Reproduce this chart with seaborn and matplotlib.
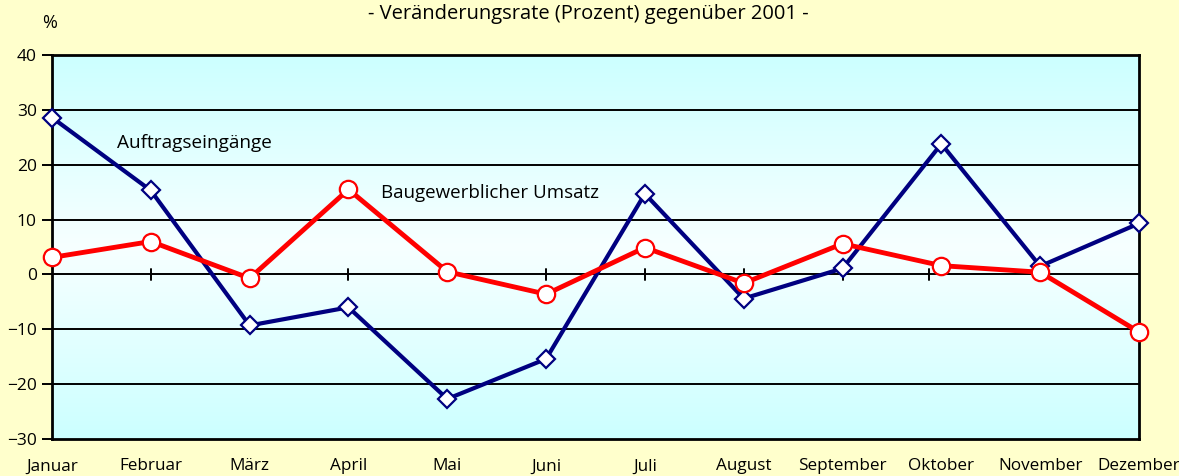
import pandas as pd
import numpy as np
import matplotlib.pyplot as plt
from matplotlib.colors import LinearSegmentedColormap
import seaborn as sns

monate = ['Januar', 'Februar', 'März', 'April', 'Mai', 'Juni', 'Juli',
          'August', 'September', 'Oktober', 'November', 'Dezember']
auftragseingaenge = [28.6, 15.3, -9.3, -6.0, -22.7, -15.4, 14.7, -4.4, 1.1, 23.8, 1.5, 9.3]
umsatz = [3.1, 6.0, -0.7, 15.5, 0.5, -3.6, 4.9, -1.6, 5.6, 1.6, 0.4, -10.5]

df = pd.DataFrame({'monat': monate, 'pos': range(12),
                   'Auftragseingänge': auftragseingaenge,
                   'Baugewerblicher Umsatz': umsatz})

sns.set_style('white')
plt.rcParams['font.family'] = ['Open Sans', 'DejaVu Sans']
plt.rcParams['text.color'] = 'black'
plt.rcParams['xtick.color'] = 'black'
plt.rcParams['ytick.color'] = 'black'

fig = plt.figure(figsize=(11.79, 4.76), dpi=100, facecolor='#FFFFCC')
ax = fig.add_axes([52/1179, 37/476, 1087/1179, 384/476])
ax.set_facecolor('#CCFFFF')

# hellblauer Verlauf im Hintergrund
cmap = LinearSegmentedColormap.from_list('bg', ['#CCFFFF', '#F7FFFF', '#CCFFFF'])
grad = np.linspace(0, 1, 256).reshape(-1, 1)
ax.imshow(grad, cmap=cmap, aspect='auto', extent=(0, 11, -30, 40), zorder=0)

for y in range(-20, 40, 10):
    ax.axhline(y, color='black', lw=1.4, zorder=1)
for x in [1, 3, 5, 6, 7, 8, 8.87]:
    ax.plot([x, x], [-1, 1], color='black', lw=1.4, zorder=1)

sns.lineplot(data=df, x='pos', y='Auftragseingänge', ax=ax, color='#000080', lw=3,
             marker='D', markersize=9, markerfacecolor='white', markeredgecolor='#000080',
             markeredgewidth=1.6, sort=False, clip_on=False, zorder=3)
sns.lineplot(data=df, x='pos', y='Baugewerblicher Umsatz', ax=ax, color='#FF0000', lw=3.5,
             marker='o', markersize=12.5, markerfacecolor='white', markeredgecolor='#FF0000',
             markeredgewidth=1.6, sort=False, clip_on=False, zorder=4)

ax.set_xlim(0, 11)
ax.set_ylim(-30, 40)
ax.set_yticks(range(-30, 41, 10))
ax.set_xticks(range(12))
ax.set_xticklabels(monate)
ax.tick_params(axis='y', length=7, width=1.4, color='black', labelsize=12.5, pad=4)
ax.tick_params(axis='x', length=0, labelsize=12.3, pad=14)
ax.tick_params(left=True, bottom=False)
for s in ax.spines.values():
    s.set_color('black')
    s.set_linewidth(2)
ax.set_xlabel('')
ax.set_ylabel('')

ax.text(0.66, 24, 'Auftragseingänge', fontsize=13.7, va='center')
ax.text(3.33, 14.8, 'Baugewerblicher Umsatz', fontsize=13.5, va='center')

fig.text(50/1179, 1 - 23/476, '%', fontsize=13, ha='center', va='center')
fig.text(588/1179, 1 - 14/476, '- Veränderungsrate (Prozent) gegenüber 2001 -',
         fontsize=14.5, ha='center', va='center')

plt.savefig('out.png', dpi=100, facecolor=fig.get_facecolor())
